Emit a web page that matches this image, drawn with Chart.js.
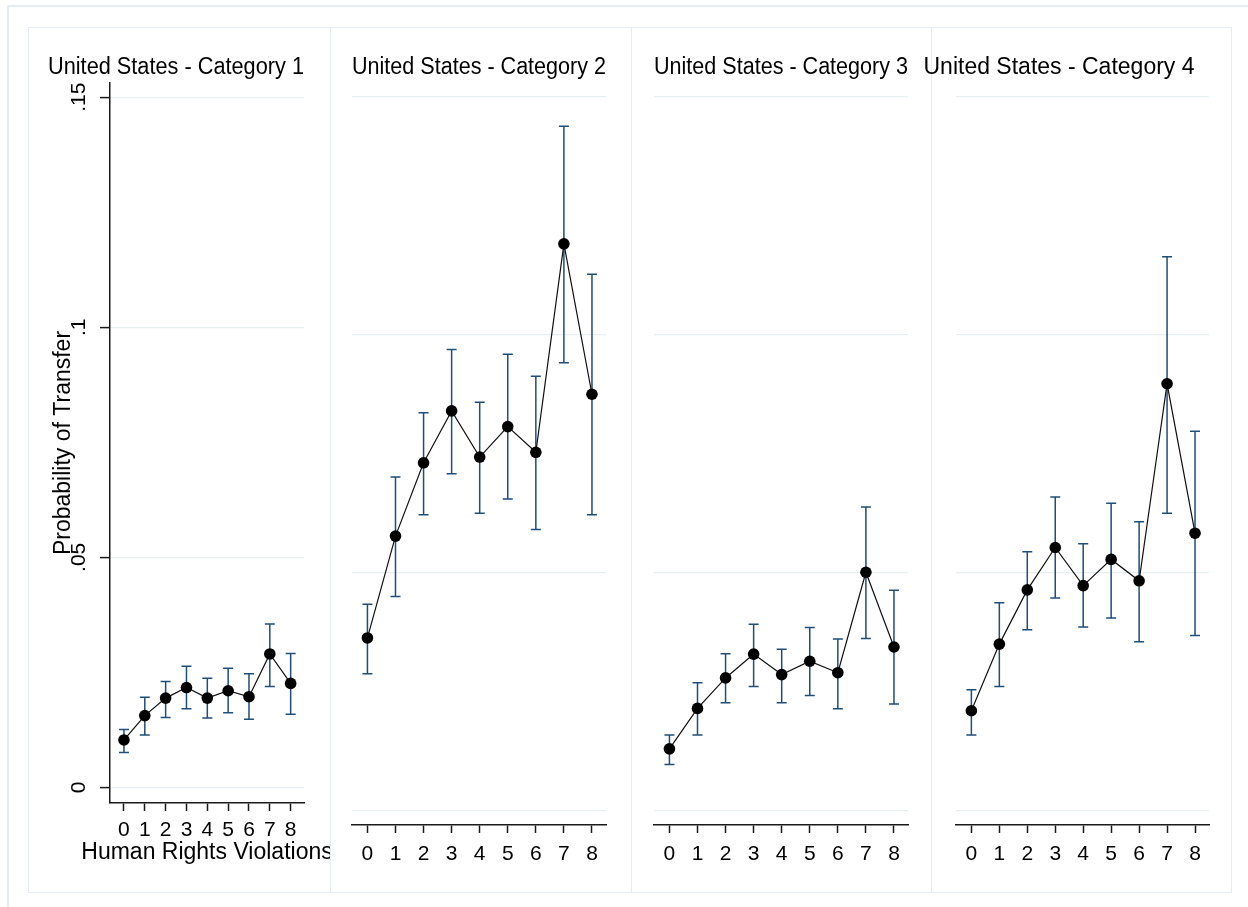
<!DOCTYPE html>
<html>
<head>
<meta charset="utf-8">
<script src="https://cdn.jsdelivr.net/npm/chart.js@4.4.0/dist/chart.umd.min.js"></script>
<style>
  html, body { margin: 0; padding: 0; background: #fff; }
  #page { position: relative; width: 1248px; height: 907px; overflow: hidden; }
  .ln { position: absolute; background: #e6edf0; }
  canvas { position: absolute; top: 27px; }
</style>
</head>
<body>
<div id="page">
  <div class="ln" style="left:7px;top:5px;width:1241px;height:2px"></div>
  <div class="ln" style="left:7px;top:5px;width:2px;height:902px"></div>
  <div class="ln" style="left:28px;top:27px;width:1204px;height:1px"></div>
  <div class="ln" style="left:28px;top:892px;width:1204px;height:1px"></div>
  <div class="ln" style="left:28px;top:27px;width:1px;height:866px"></div>
  <div class="ln" style="left:330px;top:27px;width:1px;height:866px"></div>
  <div class="ln" style="left:631px;top:27px;width:1px;height:866px"></div>
  <div class="ln" style="left:931px;top:27px;width:1px;height:866px"></div>
  <div class="ln" style="left:1231px;top:27px;width:1px;height:866px"></div>
  <canvas id="p1" width="320" height="866" style="left:10px"></canvas>
  <canvas id="p2" width="301" height="866" style="left:330px"></canvas>
  <canvas id="p3" width="300" height="866" style="left:631px"></canvas>
  <canvas id="p4" width="336" height="866" style="left:900px"></canvas>
</div>
<script>
// data
const violations = [0, 1, 2, 3, 4, 5, 6, 7, 8];
const panelTitles = [
    'United States - Category 1',
    'United States - Category 2',
    'United States - Category 3',
    'United States - Category 4'
];
const yTicks = [0, 0.05, 0.1, 0.15];
const yTickLabels = ['0', '.05', '.1', '.15'];
const yTitle = 'Probability of Transfer';
const xTitle = 'Human Rights Violations';

const cat1Prob = [0.0103, 0.0156, 0.0194, 0.0217, 0.0194, 0.0210, 0.0197, 0.0290, 0.0226];
const cat1Lo   = [0.0076, 0.0114, 0.0152, 0.0171, 0.0151, 0.0162, 0.0148, 0.0219, 0.0159];
const cat1Hi   = [0.0126, 0.0196, 0.0230, 0.0263, 0.0237, 0.0259, 0.0247, 0.0355, 0.0291];

const cat2Prob = [0.0363, 0.0577, 0.0731, 0.0840, 0.0743, 0.0807, 0.0753, 0.1191, 0.0875];
const cat2Lo   = [0.0288, 0.0450, 0.0622, 0.0708, 0.0625, 0.0655, 0.0591, 0.0941, 0.0622];
const cat2Hi   = [0.0434, 0.0701, 0.0836, 0.0969, 0.0858, 0.0959, 0.0913, 0.1438, 0.1127];

const cat3Prob = [0.0130, 0.0215, 0.0279, 0.0329, 0.0286, 0.0314, 0.0290, 0.0501, 0.0344];
const cat3Lo   = [0.0097, 0.0159, 0.0227, 0.0261, 0.0227, 0.0242, 0.0214, 0.0362, 0.0224];
const cat3Hi   = [0.0159, 0.0269, 0.0330, 0.0392, 0.0339, 0.0385, 0.0361, 0.0638, 0.0463];

const cat4Prob = [0.0210, 0.0350, 0.0464, 0.0553, 0.0473, 0.0528, 0.0483, 0.0897, 0.0583];
const cat4Lo   = [0.0159, 0.0261, 0.0380, 0.0447, 0.0386, 0.0405, 0.0355, 0.0625, 0.0368];
const cat4Hi   = [0.0254, 0.0437, 0.0544, 0.0659, 0.0561, 0.0646, 0.0607, 0.1164, 0.0797];

Chart.defaults.font.family = "'Liberation Sans', Arial, sans-serif";
Chart.defaults.color = '#000';

const gridColor = '#e8eff1';
const axisColor = '#1a1a1a';
const barColor = '#1f4e79';

// vertical CI bars with caps, drawn under the line and markers
const errorBars = {
    id: 'errorBars',
    beforeDatasetsDraw(chart, args, opts) {
        const ctx = chart.ctx;
        const xs = chart.scales.x, ys = chart.scales.y;
        ctx.save();
        ctx.strokeStyle = opts.color;
        ctx.lineWidth = 1.5;
        opts.lo.forEach((lo, i) => {
            const x = xs.getPixelForValue(violations[i]);
            const y1 = ys.getPixelForValue(lo);
            const y2 = ys.getPixelForValue(opts.hi[i]);
            ctx.beginPath();
            ctx.moveTo(x, y1); ctx.lineTo(x, y2);
            ctx.moveTo(x - 5, y1); ctx.lineTo(x + 5, y1);
            ctx.moveTo(x - 5, y2); ctx.lineTo(x + 5, y2);
            ctx.stroke();
        });
        ctx.restore();
    }
};

// x title wider than the plot, so it is drawn here instead of the scale title
const xTitlePlugin = {
    id: 'xTitle',
    afterDraw(chart, args, opts) {
        if (!opts.text) return;
        const ctx = chart.ctx;
        const a = chart.chartArea;
        ctx.save();
        ctx.font = "23px 'Liberation Sans', Arial, sans-serif";
        ctx.fillStyle = '#000';
        ctx.textAlign = 'center';
        ctx.textBaseline = 'middle';
        ctx.fillText(opts.text, (a.left + a.right) / 2, a.bottom + opts.offset);
        ctx.restore();
    }
};

function makePanel(id, idx, prob, lo, hi, g) {
    const first = idx === 0;
    return new Chart(document.getElementById(id), {
        type: 'scatter',
        data: {
            datasets: [{
                data: violations.map((v, i) => ({ x: v, y: prob[i] })),
                showLine: true,
                borderColor: '#111',
                borderWidth: 1.2,
                pointRadius: 5.8,
                pointBackgroundColor: '#000',
                pointBorderWidth: 0,
                tension: 0
            }]
        },
        options: {
            responsive: false,
            animation: false,
            layout: { padding: { left: g.padLeft, right: g.padRight, top: 0, bottom: 0 } },
            plugins: {
                legend: { display: false },
                tooltip: { enabled: false },
                title: {
                    display: true,
                    text: panelTitles[idx],
                    font: { size: 23, weight: 'normal' },
                    color: '#000',
                    padding: { top: 27, bottom: g.titlePadBottom }
                },
                errorBars: { lo: lo, hi: hi, color: barColor },
                xTitle: { text: first ? xTitle : '', offset: 50 }
            },
            scales: {
                x: {
                    type: 'linear',
                    min: g.xMin,
                    max: g.xMax,
                    afterBuildTicks: s => { s.ticks = violations.map(v => ({ value: v })); },
                    afterFit: s => { s.height = g.xHeight; },
                    ticks: {
                        font: { size: 21 },
                        color: '#000',
                        padding: g.tickPad,
                        maxRotation: 0,
                        callback: v => String(v)
                    },
                    grid: {
                        drawOnChartArea: false,
                        tickLength: 8,
                        tickColor: axisColor,
                        tickWidth: 1.5
                    },
                    border: { display: true, color: axisColor, width: 1.5 }
                },
                y: {
                    type: 'linear',
                    min: g.yMin,
                    max: 0.1531,
                    afterBuildTicks: s => { s.ticks = yTicks.map(v => ({ value: v })); },
                    afterFit: s => { s.width = g.yWidth; },
                    ticks: {
                        display: first,
                        font: { size: 21 },
                        color: '#000',
                        minRotation: 90,
                        maxRotation: 90,
                        crossAlign: 'center',
                        padding: 6,
                        callback: v => yTickLabels[yTicks.indexOf(v)]
                    },
                    grid: {
                        color: gridColor,
                        lineWidth: 1.2,
                        drawTicks: first,
                        tickLength: 10,
                        tickColor: axisColor,
                        tickWidth: 1.5
                    },
                    border: { display: first, color: axisColor, width: 1.5 },
                    title: {
                        display: first,
                        text: yTitle,
                        font: { size: 23 },
                        color: '#000',
                        padding: { top: 2, bottom: 0 }
                    }
                }
            }
        },
        plugins: [errorBars, xTitlePlugin]
    });
}

makePanel('p1', 0, cat1Prob, cat1Lo, cat1Hi,
    { padLeft: 38, padRight: 26, yWidth: 62, xHeight: 90, titlePadBottom: 1.4, yMin: -0.0034, xMin: -0.67, xMax: 8.64, tickPad: 7 });
makePanel('p2', 1, cat2Prob, cat2Lo, cat2Hi,
    { padLeft: 22, padRight: 25, yWidth: 0, xHeight: 68, titlePadBottom: 0.4, yMin: -0.003, xMin: -0.55, xMax: 8.5, tickPad: 8.5 });
makePanel('p3', 2, cat3Prob, cat3Lo, cat3Hi,
    { padLeft: 23, padRight: 23, yWidth: 0, xHeight: 68, titlePadBottom: 0.4, yMin: -0.003, xMin: -0.55, xMax: 8.5, tickPad: 8.5 });
makePanel('p4', 3, cat4Prob, cat4Lo, cat4Hi,
    { padLeft: 9, padRight: 27, yWidth: 47, xHeight: 68, titlePadBottom: 0.4, yMin: -0.003, xMin: -0.55, xMax: 8.5, tickPad: 8.5 });
</script>
</body>
</html>
